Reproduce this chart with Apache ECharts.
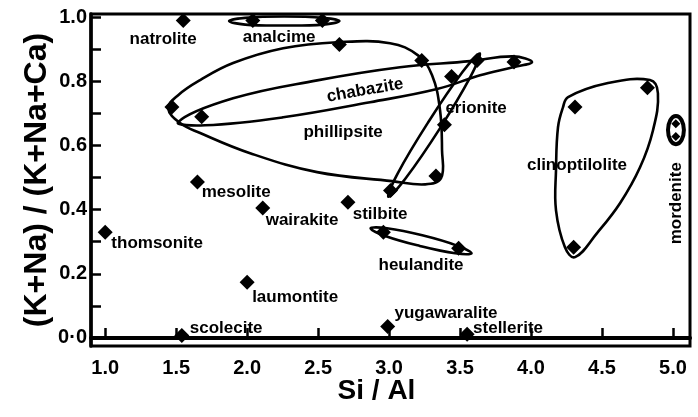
<!DOCTYPE html>
<html>
<head>
<meta charset="utf-8">
<script src="https://cdn.jsdelivr.net/npm/echarts@6/dist/echarts.min.js"></script>
<style>
  html, body { margin: 0; padding: 0; background: #fff; }
  #main { width: 698px; height: 417px; }
</style>
</head>
<body>
<div id="main"></div>
<script>
// zeolite points, Si/Al vs (K+Na)/(K+Na+Ca)
var points = [
  [1.55, 0.99], [2.04, 0.99], [2.53, 0.99],
  [1.47, 0.72], [1.68, 0.69], [2.65, 0.915], [3.23, 0.865],
  [3.62, 0.865], [3.88, 0.86], [3.44, 0.815], [3.39, 0.665],
  [3.33, 0.505], [3.01, 0.46],
  [4.31, 0.72], [4.82, 0.78], [4.30, 0.283],
  [1.65, 0.486], [2.11, 0.405], [2.71, 0.423],
  [2.96, 0.33], [3.49, 0.28], [1.0, 0.33], [2.0, 0.174],
  [1.54, 0.008], [2.99, 0.036], [3.55, 0.012]
];
var mordenitePts = [[5.02, 0.668], [5.02, 0.628]];

// mineral names and where their names sit
var names = ['natrolite', 'analcime', 'chabazite', 'phillipsite', 'erionite', 'clinoptilolite',
  'mordenite', 'mesolite', 'wairakite', 'stilbite', 'heulandite', 'thomsonite',
  'laumontite', 'scolecite', 'yugawaralite', 'stellerite'];
var nameX = [1.408, 2.225, 2.831, 2.676, 3.613, 4.324, 5.021, 1.923, 2.387, 2.937, 3.225, 1.366, 2.338, 1.852, 3.401, 3.838];
var nameY = [0.931, 0.938, 0.772, 0.641, 0.716, 0.539, 0.420, 0.454, 0.367, 0.386, 0.227, 0.295, 0.127, 0.030, 0.077, 0.030];
var nameRot = [0, 0, 10, 0, 0, 0, 90, 0, 0, 0, 0, 0, 0, 0, 0, 0];

// outlines of the fields
var analcimeLoop = [[2.65,0.988],[2.535,0.977],[2.26,0.974],[1.986,0.977],[1.873,0.988],[1.986,0.998],[2.26,1.002],[2.535,0.998]];
var phillipsiteLoop = [[1.444,0.716],[1.514,0.757],[1.669,0.804],[1.901,0.857],[2.254,0.903],[2.634,0.922],[3.007,0.919],
  [3.204,0.881],[3.303,0.819],[3.359,0.710],[3.373,0.585],[3.366,0.498],[3.254,0.479],[3.021,0.489],
  [2.493,0.517],[2.021,0.576],[1.669,0.639],[1.528,0.670]];
var chabaziteLoop = [[1.514,0.673],[1.901,0.747],[2.493,0.803],[3.077,0.844],[3.570,0.863],[3.873,0.878],[4.007,0.860],
  [3.873,0.844],[3.641,0.819],[3.338,0.776],[2.866,0.735],[2.254,0.688],[1.704,0.663]];
var erioniteLoop = [[3.639,0.887],[3.572,0.813],[3.356,0.652],[3.117,0.498],[2.995,0.440],[3.062,0.514],[3.278,0.674],[3.517,0.829]];
var heulanditeLoop = [[3.581,0.264],[3.466,0.264],[3.216,0.287],[2.973,0.318],[2.870,0.342],[2.985,0.342],[3.234,0.320],[3.478,0.288]];
var clinoLoop = [[4.261,0.751],[4.535,0.794],[4.838,0.804],[4.894,0.763],[4.859,0.647],[4.768,0.532],[4.627,0.420],
  [4.465,0.327],[4.310,0.252],[4.239,0.283],[4.176,0.398],[4.176,0.523],[4.190,0.657],[4.225,0.719]];
var mordeniteLoop = [[5.077,0.648],[5.061,0.617],[5.021,0.604],[4.981,0.617],[4.965,0.648],[4.981,0.679],[5.021,0.692],[5.061,0.679]];

var loops = [analcimeLoop, phillipsiteLoop, chabaziteLoop, erioniteLoop, heulanditeLoop, clinoLoop, mordeniteLoop];

var xTicks = [1.0, 1.5, 2.0, 2.5, 3.0, 3.5, 4.0, 4.5, 5.0];
var yTicks = [0, 0.1, 0.2, 0.3, 0.4, 0.5, 0.6, 0.7, 0.8, 0.9, 1.0];
var yLabelVals = [0, 0.2, 0.4, 0.6, 0.8, 1.0];
var yLabelText = ['0·0', '0.2', '0.4', '0.6', '0.8', '1.0'];

var font = "'Liberation Sans', Arial, Helvetica, sans-serif";
var myChart = echarts.init(document.getElementById('main'));

var labelData = names.map(function (n, i) {
  return {
    name: n,
    value: [nameX[i], nameY[i]],
    label: { rotate: nameRot[i] }
  };
});

var option = {
  backgroundColor: '#fff',
  animation: false,
  grid: {
    left: 91, right: 8, top: 14, bottom: 71,
    show: true, borderColor: '#000', borderWidth: 3
  },
  xAxis: {
    type: 'value',
    min: 0.9, max: 5.12,
    name: 'Si / Al',
    nameLocation: 'middle',
    nameGap: 31,
    nameMoveOverlap: false,
    nameTextStyle: { fontSize: 28, fontWeight: 'bold', color: '#000', fontFamily: font, padding: [0, 28, 0, 0] },
    splitLine: { show: false },
    axisLine: { lineStyle: { color: '#000', width: 4 } },
    axisTick: { inside: true, length: 10, customValues: xTicks, lineStyle: { color: '#000', width: 2.5 } },
    axisLabel: {
      customValues: xTicks, margin: 12,
      fontSize: 20, fontWeight: 'bold', color: '#000', fontFamily: font,
      formatter: function (v) { return v.toFixed(1); }
    }
  },
  yAxis: {
    type: 'value',
    min: -0.025, max: 1.01,
    name: '(K+Na) / (K+Na+Ca)',
    nameLocation: 'middle',
    nameGap: 38,
    nameMoveOverlap: false,
    nameTextStyle: { fontSize: 32, fontWeight: 'bold', color: '#000', fontFamily: font },
    splitLine: { show: false },
    axisLine: { lineStyle: { color: '#000', width: 3.5 } },
    axisTick: { inside: true, length: 10, customValues: yTicks, lineStyle: { color: '#000', width: 2.5 } },
    axisLabel: {
      customValues: yLabelVals, margin: 4,
      fontSize: 20, fontWeight: 'bold', color: '#000', fontFamily: font,
      formatter: function (v) {
        var i = yLabelVals.indexOf(Math.round(v * 10) / 10);
        return i >= 0 ? yLabelText[i] : '';
      }
    }
  },
  series: [
    {
      type: 'custom',
      data: loops.map(function (l) { return l[0]; }),
      silent: true,
      z: 3,
      renderItem: function (params, api) {
        var idx = params.dataIndex;
        var pts = loops[idx].map(function (p) { return api.coord(p); });
        return {
          type: 'polygon',
          shape: { points: pts, smooth: 0.4 },
          style: { fill: 'none', stroke: '#000', lineWidth: idx === 6 ? 4 : 2.6 }
        };
      }
    },
    {
      type: 'scatter',
      symbol: 'diamond',
      symbolSize: 15,
      itemStyle: { color: '#000', opacity: 1 },
      z: 4,
      data: points
    },
    {
      type: 'scatter',
      symbol: 'diamond',
      symbolSize: 9,
      itemStyle: { color: '#000', opacity: 1 },
      z: 4,
      data: mordenitePts
    },
    {
      type: 'scatter',
      symbolSize: 0,
      z: 5,
      itemStyle: { opacity: 1 },
      data: labelData,
      label: {
        show: true,
        position: 'inside',
        formatter: '{b}',
        fontSize: 17,
        fontWeight: 'bold',
        color: '#000',
        fontFamily: font
      }
    }
  ]
};

myChart.setOption(option);
</script>
</body>
</html>
